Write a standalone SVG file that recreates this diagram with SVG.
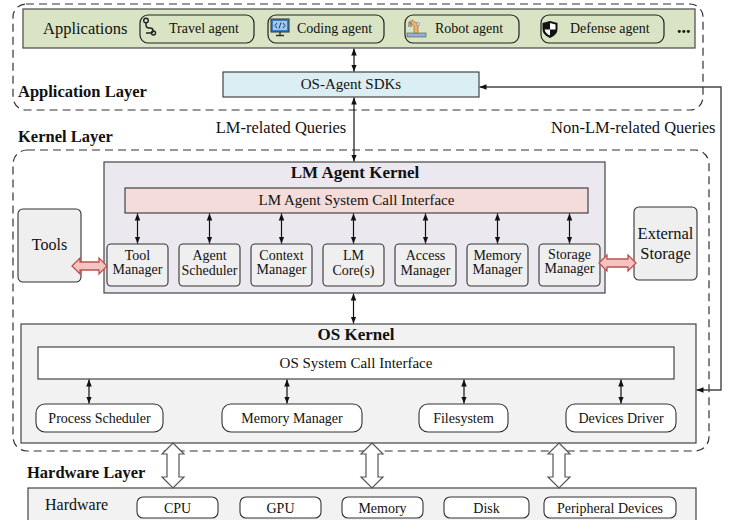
<svg xmlns="http://www.w3.org/2000/svg" width="732" height="520" viewBox="0 0 732 520">
<defs>
<marker id="ah" viewBox="0 0 10 10" refX="10" refY="5" markerWidth="7" markerHeight="7" orient="auto-start-reverse" markerUnits="userSpaceOnUse"><path d="M0,1 L10,5 L0,9 Z" fill="#111"/></marker>
<marker id="ahg" viewBox="0 0 10 10" refX="10" refY="5" markerWidth="7" markerHeight="7" orient="auto-start-reverse" markerUnits="userSpaceOnUse"><path d="M0,1 L10,5 L0,9 Z" fill="#111"/></marker>
<style>
text{font-family:"Liberation Serif","Times New Roman",serif;fill:#111}
.t14{font-size:14px}
.t15{font-size:15px}
.t16{font-size:16px}
.b{font-weight:bold;font-size:16.5px}
.c{text-anchor:middle}
.dash{fill:none;stroke:#333;stroke-width:1.2;stroke-dasharray:8 5}
.pill{fill:none;stroke:#222;stroke-width:1.2}
.mgr{fill:#efefef;stroke:#333;stroke-width:1.1}
.comp{fill:#fff;stroke:#333;stroke-width:1.1}
.link{fill:none;stroke:#111;stroke-width:1.2;marker-start:url(#ah);marker-end:url(#ah)}
.red{fill:#f4c4c2;stroke:#c0504d;stroke-width:1.3}
.hollow{fill:#fff;stroke:#555;stroke-width:1.2}
</style>
</defs>

<g id="application-layer">
<rect class="dash" x="13" y="4" width="690" height="106" rx="13"/>
<text class="b" x="18" y="97">Application Layer</text>
</g>

<g id="applications">
<rect x="23" y="9" width="672" height="39" fill="#d9e4c4" stroke="#555" stroke-width="1.3"/>
<text class="t16" x="43" y="34" style="font-size:16.5px">Applications</text>
<g id="travel-agent">
<rect class="pill" x="140" y="15" width="114" height="28" rx="8"/>
<circle cx="146" cy="20.5" r="2.3" fill="none" stroke="#222" stroke-width="1.4"/>
<path d="M146,23 V25 Q146,28 149,28 H150 Q153,28 153,30.5 Q153,33 150,33 H146" fill="none" stroke="#222" stroke-width="1.4"/>
<circle cx="153.5" cy="33" r="2" fill="none" stroke="#222" stroke-width="1.4"/>
<text class="t14" x="169" y="33">Travel agent</text>
</g>
<g id="coding-agent">
<rect class="pill" x="268" y="15" width="116" height="28" rx="8"/>
<rect x="271" y="19" width="18" height="13" fill="#3a7fc1" stroke="#333" stroke-width="1"/>
<rect x="273" y="21" width="14" height="9" fill="#9cc9ee"/>
<path d="M277,23 L275,25.5 L277,28 M283,23 L285,25.5 L283,28 M281,22.5 L279,28.5" fill="none" stroke="#1f3d66" stroke-width="1"/>
<path d="M280,32 V35 M276,35.5 H284" stroke="#333" stroke-width="1.4"/>
<text class="t14" x="297" y="33">Coding agent</text>
</g>
<g id="robot-agent">
<rect class="pill" x="405" y="15" width="114" height="28" rx="8"/>
<rect x="407" y="33" width="19" height="4" fill="#8fb0d8" stroke="#555" stroke-width="0.6"/>
<path d="M418,33 V24 L412,20 L409,22 L414,26 V33 Z" fill="#f0b36e" stroke="#8a5a2a" stroke-width="0.6"/>
<circle cx="418" cy="24" r="1.6" fill="#e0e0e0" stroke="#666" stroke-width="0.5"/>
<path d="M409,22 V27 M411,22 V27" stroke="#666" stroke-width="1"/>
<text class="t14" x="435" y="33">Robot agent</text>
</g>
<g id="defense-agent">
<rect class="pill" x="541" y="15" width="123" height="28" rx="8"/>
<path d="M550,21 L557.5,23 V29 Q557.5,35 550,38 Q542.5,35 542.5,29 V23 Z" fill="#111"/>
<path d="M550,23 L555.5,24.5 V29.5 H550 Z M550,29.5 V35.5 Q545.5,33.5 544.6,29.5 Z" fill="#fff"/>
<text class="t14" x="570" y="33">Defense agent</text>
</g>
<text x="677" y="33" style="font-size:18px;font-weight:bold">...</text>
</g>

<g id="os-agent-sdks">
<rect x="223" y="72" width="256" height="25" fill="#dbeef4" stroke="#333" stroke-width="1.1"/>
<text class="t15 c" x="351" y="89">OS-Agent SDKs</text>
</g>

<g id="kernel-layer">
<rect class="dash" x="13" y="150" width="696" height="301" rx="14"/>
<text class="b" x="18" y="142">Kernel Layer</text>
</g>

<g id="lm-agent-kernel">
<rect x="104" y="162" width="501" height="131" fill="#ebe8f0" stroke="#444" stroke-width="1.2"/>
<text class="c" x="355" y="178" style="font-size:17px;font-weight:bold">LM Agent Kernel</text>
</g>
<g id="lm-syscall">
<rect x="125" y="188" width="463" height="25" fill="#f3dcd9" stroke="#333" stroke-width="1.1"/>
<text class="t15 c" x="356.5" y="205">LM Agent System Call Interface</text>
</g>
<g id="tool-manager"><rect class="mgr" x="107" y="244" width="61" height="42" rx="4"/><text class="t14 c" x="137.5" y="260">Tool</text><text class="t14 c" x="137.5" y="274">Manager</text></g>
<g id="agent-scheduler"><rect class="mgr" x="179" y="244" width="61" height="42" rx="4"/><text class="t14 c" x="209.5" y="260">Agent</text><text class="t14 c" x="209.5" y="275">Scheduler</text></g>
<g id="context-manager"><rect class="mgr" x="251" y="244" width="61" height="42" rx="4"/><text class="t14 c" x="281.5" y="260">Context</text><text class="t14 c" x="281.5" y="274">Manager</text></g>
<g id="lm-core"><rect class="mgr" x="323" y="244" width="61" height="42" rx="4"/><text class="t14 c" x="353.5" y="260">LM</text><text class="t14 c" x="353.5" y="275">Core(s)</text></g>
<g id="access-manager"><rect class="mgr" x="395" y="244" width="61" height="42" rx="4"/><text class="t14 c" x="425.5" y="260">Access</text><text class="t14 c" x="425.5" y="275">Manager</text></g>
<g id="memory-manager-lm"><rect class="mgr" x="467" y="244" width="61" height="42" rx="4"/><text class="t14 c" x="497.5" y="260">Memory</text><text class="t14 c" x="497.5" y="274">Manager</text></g>
<g id="storage-manager"><rect class="mgr" x="539" y="244" width="61" height="42" rx="4"/><text class="t14 c" x="569.5" y="259">Storage</text><text class="t14 c" x="569.5" y="273">Manager</text></g>

<g id="tools"><rect class="mgr" x="18" y="209" width="63" height="73" rx="5"/><text class="t16 c" x="49.5" y="250">Tools</text></g>
<g id="external-storage"><rect class="mgr" x="634" y="207" width="63" height="73" rx="5"/><text class="c" x="665.5" y="239" style="font-size:16.5px">External</text><text class="c" x="665.5" y="259" style="font-size:16.5px">Storage</text></g>

<g id="os-kernel">
<rect x="21" y="324" width="675" height="119" fill="#f2f2f2" stroke="#444" stroke-width="1.2"/>
<text class="c" x="356" y="340" style="font-size:17px;font-weight:bold">OS Kernel</text>
</g>
<g id="os-syscall">
<rect x="38" y="347" width="636" height="32" fill="#fff" stroke="#333" stroke-width="1.1"/>
<text class="t15 c" x="356" y="368">OS System Call Interface</text>
</g>
<g id="process-scheduler"><rect class="comp" x="36" y="404" width="127" height="28" rx="9"/><text class="t14 c" x="99.5" y="423">Process Scheduler</text></g>
<g id="memory-manager-os"><rect class="comp" x="222" y="404" width="140" height="28" rx="9"/><text class="t14 c" x="292" y="423">Memory Manager</text></g>
<g id="filesystem"><rect class="comp" x="419" y="404" width="89" height="28" rx="9"/><text class="t14 c" x="463.5" y="423">Filesystem</text></g>
<g id="devices-driver"><rect class="comp" x="566" y="404" width="110" height="28" rx="9"/><text class="t14 c" x="621" y="423">Devices Driver</text></g>

<g id="hardware-layer">
<text class="b" x="27" y="478">Hardware Layer</text>
</g>
<g id="hardware">
<rect x="28" y="488" width="668" height="40" fill="#f2f2f2" stroke="#444" stroke-width="1.2"/>
<text class="t16" x="45" y="510">Hardware</text>
</g>
<g id="cpu"><rect class="comp" x="137" y="497" width="81" height="21" rx="6"/><text class="t14 c" x="177.5" y="512.5">CPU</text></g>
<g id="gpu"><rect class="comp" x="240" y="497" width="81" height="21" rx="6"/><text class="t14 c" x="280.5" y="512.5">GPU</text></g>
<g id="memory"><rect class="comp" x="342" y="497" width="81" height="21" rx="6"/><text class="t14 c" x="382.5" y="512.5">Memory</text></g>
<g id="disk"><rect class="comp" x="444" y="497" width="85" height="21" rx="6"/><text class="t14 c" x="486.5" y="512.5">Disk</text></g>
<g id="peripheral-devices"><rect class="comp" x="544" y="497" width="132" height="21" rx="6"/><text class="t14 c" x="610" y="512.5">Peripheral Devices</text></g>

<g id="connectors">
<line class="link" x1="354" y1="48.5" x2="354" y2="71.5"/>
<line class="link" x1="354" y1="97.5" x2="354" y2="161.5"/>
<text class="c" x="281" y="133" style="font-size:16.5px">LM-related Queries</text>
<text x="551" y="133" style="font-size:16.5px">Non-LM-related Queries</text>
<polyline points="479.5,87 721,87 721,390 696.5,390" fill="none" stroke="#444" stroke-width="1.4" marker-start="url(#ahg)" marker-end="url(#ahg)"/>
<line class="link" x1="137.5" y1="213.5" x2="137.5" y2="243.5"/>
<line class="link" x1="209.5" y1="213.5" x2="209.5" y2="243.5"/>
<line class="link" x1="281.5" y1="213.5" x2="281.5" y2="243.5"/>
<line class="link" x1="353.5" y1="213.5" x2="353.5" y2="243.5"/>
<line class="link" x1="425.5" y1="213.5" x2="425.5" y2="243.5"/>
<line class="link" x1="497.5" y1="213.5" x2="497.5" y2="243.5"/>
<line class="link" x1="569.5" y1="213.5" x2="569.5" y2="243.5"/>
<line class="link" x1="353.5" y1="293.5" x2="353.5" y2="323.5"/>
<line class="link" x1="89" y1="379.5" x2="89" y2="403.5"/>
<line class="link" x1="287" y1="379.5" x2="287" y2="403.5"/>
<line class="link" x1="464" y1="379.5" x2="464" y2="403.5"/>
<line class="link" x1="621" y1="379.5" x2="621" y2="403.5"/>
<path class="red" d="M72,266 L80,258 L80,262 L99,262 L99,258 L107,266 L99,274 L99,270 L80,270 L80,274 Z"/>
<path class="red" d="M599,263 L607,255 L607,259 L628,259 L628,255 L636,263 L628,271 L628,267 L607,267 L607,271 Z"/>
<path class="hollow" d="M173,443 L184,454 L179,454 L179,477 L184,477 L173,488 L162,477 L167,477 L167,454 L162,454 Z"/>
<path class="hollow" d="M372,443 L383,454 L378,454 L378,477 L383,477 L372,488 L361,477 L366,477 L366,454 L361,454 Z"/>
<path class="hollow" d="M559,443 L570,454 L565,454 L565,477 L570,477 L559,488 L548,477 L553,477 L553,454 L548,454 Z"/>
</g>
</svg>
